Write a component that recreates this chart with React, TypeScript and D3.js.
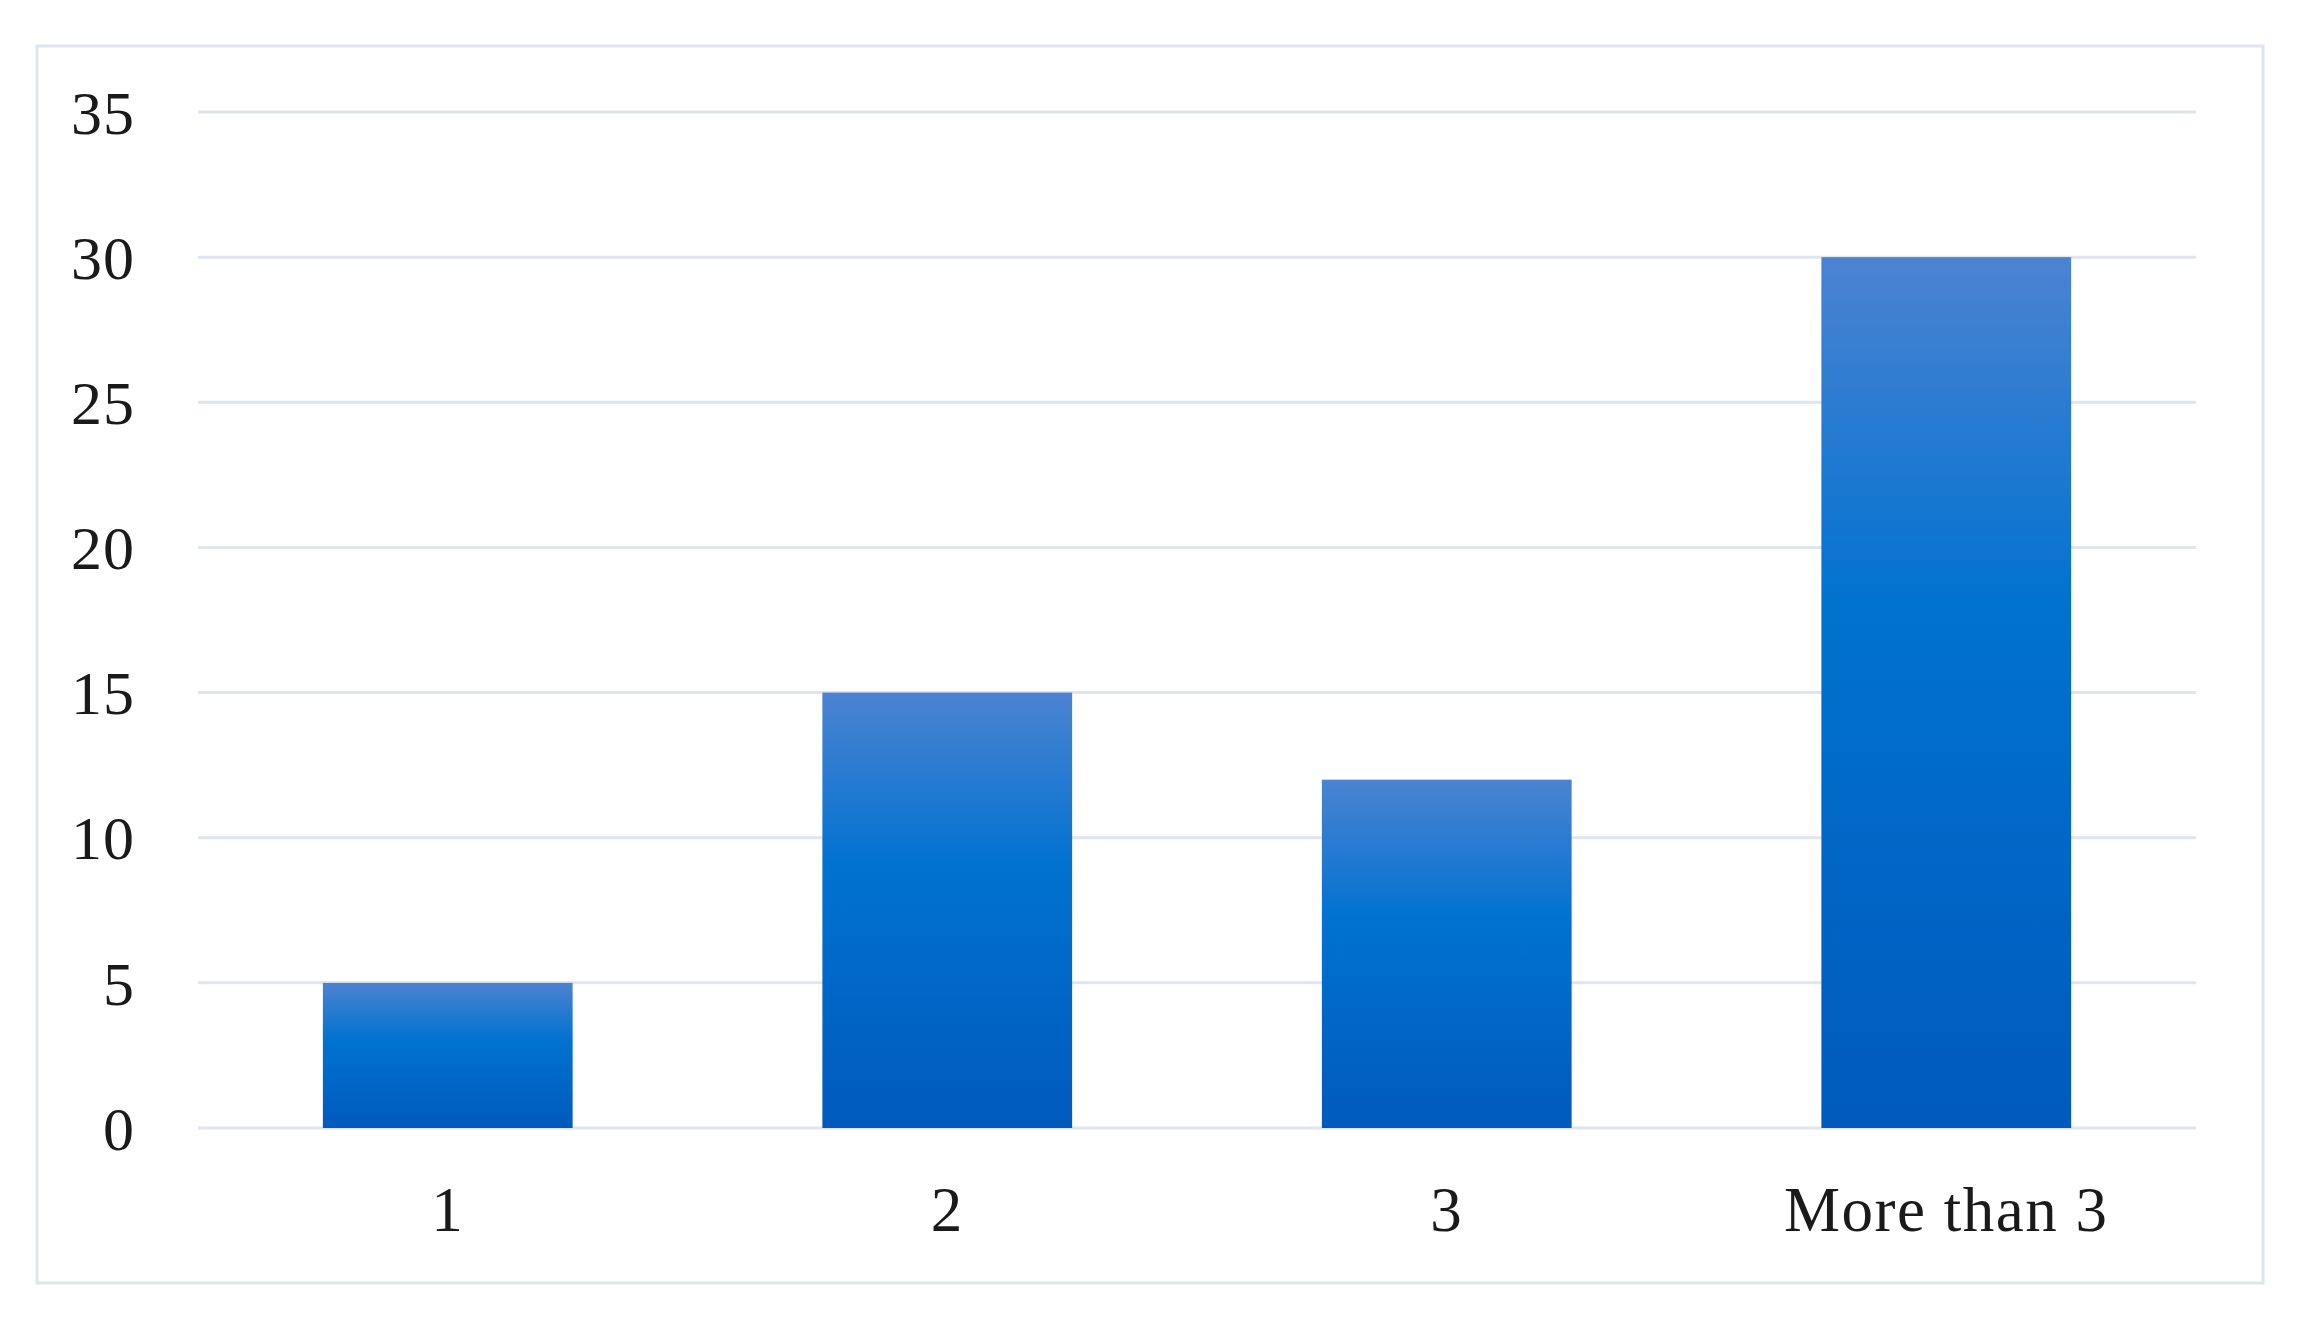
import React from "react";
import * as d3 from "d3";

const categories: string[] = ["1", "2", "3", "More than 3"];
const values: number[] = [5, 15, 12, 30];
const yTicks: number[] = [0, 5, 10, 15, 20, 25, 30, 35];

const W = 2299;
const H = 1328;
const plotLeft = 198;
const plotRight = 2196;
const yTop = 112;
const yBottom = 1128;

export default function App() {
  const x = d3
    .scaleBand<string>()
    .domain(categories)
    .range([plotLeft, plotRight])
    .paddingInner(0.5)
    .paddingOuter(0.25);
  const y = d3.scaleLinear().domain([0, 35]).range([yBottom, yTop]);
  const font = "'Liberation Serif', 'Times New Roman', serif";

  return (
    <svg
      width={W}
      height={H}
      style={{ position: "absolute", left: 0, top: 0, background: "#fff" }}
    >
      <defs>
        <linearGradient id="barGrad" x1="0" y1="0" x2="0" y2="1">
          <stop offset="0%" stopColor="#4c83d2" />
          <stop offset="40%" stopColor="#0072d0" />
          <stop offset="100%" stopColor="#005abd" />
        </linearGradient>
      </defs>
      <rect x={0} y={0} width={W} height={H} fill="#ffffff" />
      <rect
        x={37}
        y={46}
        width={2226}
        height={1237}
        fill="#ffffff"
        stroke="#dfe5ec"
        strokeWidth={3}
      />
      {yTicks.map((t) => (
        <g key={t}>
          <line
            x1={plotLeft}
            x2={plotRight}
            y1={y(t)}
            y2={y(t)}
            stroke="#dfe5ec"
            strokeWidth={3}
          />
          <text
            x={135}
            y={y(t)}
            dy="0.35em"
            textAnchor="end"
            fontFamily={font}
            fontSize={62}
            letterSpacing={1}
            fill="#1a1a1a"
          >
            {t}
          </text>
        </g>
      ))}
      {categories.map((c, i) => (
        <rect
          key={c}
          x={x(c)}
          y={y(values[i])}
          width={x.bandwidth()}
          height={y(0) - y(values[i])}
          fill="url(#barGrad)"
        />
      ))}
      {categories.map((c) => (
        <text
          key={c}
          x={(x(c) as number) + x.bandwidth() / 2}
          y={1231}
          textAnchor="middle"
          fontFamily={font}
          fontSize={63}
          letterSpacing={1.5}
          fill="#1a1a1a"
        >
          {c}
        </text>
      ))}
    </svg>
  );
}
